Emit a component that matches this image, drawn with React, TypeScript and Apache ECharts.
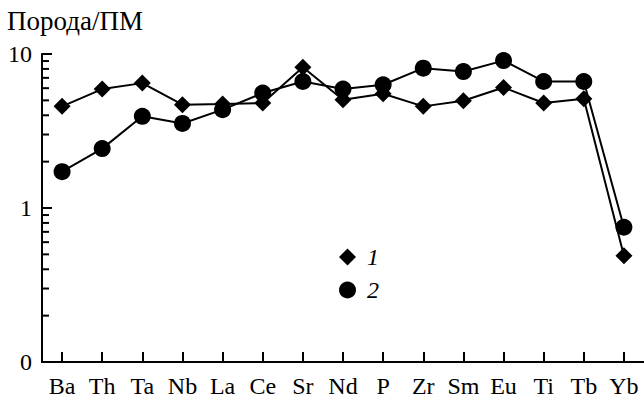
import React, { useEffect, useRef } from "react";
import * as echarts from "echarts";

const CATEGORIES = ["Ba", "Th", "Ta", "Nb", "La", "Ce", "Sr", "Nd", "P", "Zr", "Sm", "Eu", "Ti", "Tb", "Yb"];
const SERIES_1 = [4.57, 5.92, 6.47, 4.69, 4.73, 4.81, 8.2, 5.05, 5.52, 4.57, 4.97, 6.06, 4.81, 5.13, 0.49];
const SERIES_2 = [1.72, 2.43, 3.94, 3.54, 4.35, 5.58, 6.63, 5.92, 6.31, 8.09, 7.69, 9.06, 6.63, 6.63, 0.75];
const MAJOR_TICKS = [1, 10];
const MINOR_TICKS = [0.2, 0.3, 0.4, 0.5, 0.6, 0.7, 0.8, 0.9, 2, 3, 4, 5, 6, 7, 8, 9];
const Y_MIN = 0.1;
const Y_MAX = 10;
const Y_TITLE = "Порода/ПМ";
const NAME_1 = "1";
const NAME_2 = "2";

const FONT = "'Liberation Serif', 'Times New Roman', serif";
const GRID_LEFT = 42;
const GRID_TOP = 54;
const GRID_WIDTH = 603;
const GRID_HEIGHT = 308;

export default function App() {
  const ref = useRef<HTMLDivElement>(null);
  useEffect(() => {
    document.body.style.margin = "0";
    if (!ref.current) return;
    const chart = echarts.init(ref.current, null, { renderer: "svg" });
    chart.setOption({
      animation: false,
      backgroundColor: "#fff",
      textStyle: { fontFamily: FONT, color: "#000" },
      title: {
        text: Y_TITLE,
        left: 7,
        top: 7,
        padding: 0,
        textStyle: { fontFamily: FONT, fontSize: 27, fontWeight: "normal", color: "#000" },
      },
      legend: {
        orient: "vertical",
        left: 339,
        top: 245,
        itemWidth: 17,
        itemHeight: 17,
        itemGap: 9,
        padding: 0,
        selectedMode: false,
        data: [
          { name: NAME_1, icon: "diamond" },
          { name: NAME_2, icon: "circle" },
        ],
        textStyle: { fontFamily: FONT, fontSize: 24, fontStyle: "italic", color: "#000", padding: [0, 0, 0, 6] },
      },
      grid: { left: GRID_LEFT, top: GRID_TOP, width: GRID_WIDTH, height: GRID_HEIGHT },
      xAxis: {
        type: "category",
        data: CATEGORIES,
        boundaryGap: true,
        axisLine: { show: true, lineStyle: { color: "#000", width: 2 } },
        axisTick: { show: true, alignWithLabel: true, inside: true, interval: 0, length: 10, lineStyle: { color: "#000", width: 2 } },
        axisLabel: { fontFamily: FONT, fontSize: 24, color: "#000", margin: 12, interval: 0, hideOverlap: false },
        splitLine: { show: false },
      },
      yAxis: {
        type: "log",
        logBase: 10,
        min: Y_MIN,
        max: Y_MAX,
        splitNumber: 2,
        axisLine: { show: true, lineStyle: { color: "#000", width: 2 } },
        axisTick: { show: true, inside: true, length: 10, lineStyle: { color: "#000", width: 2 } },
        axisLabel: {
          fontFamily: FONT,
          fontSize: 24,
          color: "#000",
          margin: 10,
          formatter: (v: number) => (v < 0.5 ? "0" : String(Math.round(v))),
        },
        splitLine: { show: false },
      },
      series: [
        {
          name: NAME_2,
          type: "line",
          data: SERIES_2,
          symbol: "circle",
          symbolSize: 17,
          z: 2,
          lineStyle: { color: "#000", width: 2 },
          itemStyle: { color: "#000" },
        },
        {
          name: NAME_1,
          type: "line",
          data: SERIES_1,
          symbol: "diamond",
          symbolSize: 17,
          z: 3,
          lineStyle: { color: "#000", width: 2 },
          itemStyle: { color: "#000" },
        },
      ],
    });

    const yOf = (v: number): number => {
      let y: any = NaN;
      try {
        y = chart.convertToPixel({ yAxisIndex: 0 }, v);
        if (Array.isArray(y)) y = y[1];
      } catch (e) {
        y = NaN;
      }
      if (typeof y !== "number" || !isFinite(y)) {
        const t = (Math.log10(v) - Math.log10(Y_MIN)) / (Math.log10(Y_MAX) - Math.log10(Y_MIN));
        y = GRID_TOP + GRID_HEIGHT * (1 - t);
      }
      return y;
    };
    const tick = (v: number, len: number) => ({
      type: "rect",
      silent: true,
      z: 100,
      shape: { x: GRID_LEFT, y: yOf(v) - 1, width: len, height: 2 },
      style: { fill: "#000" },
    });
    chart.setOption({
      graphic: {
        elements: [...MAJOR_TICKS.map((v) => tick(v, 10)), ...MINOR_TICKS.map((v) => tick(v, 7))],
      },
    });
    return () => chart.dispose();
  }, []);
  return <div ref={ref} style={{ width: 644, height: 398 }} />;
}
